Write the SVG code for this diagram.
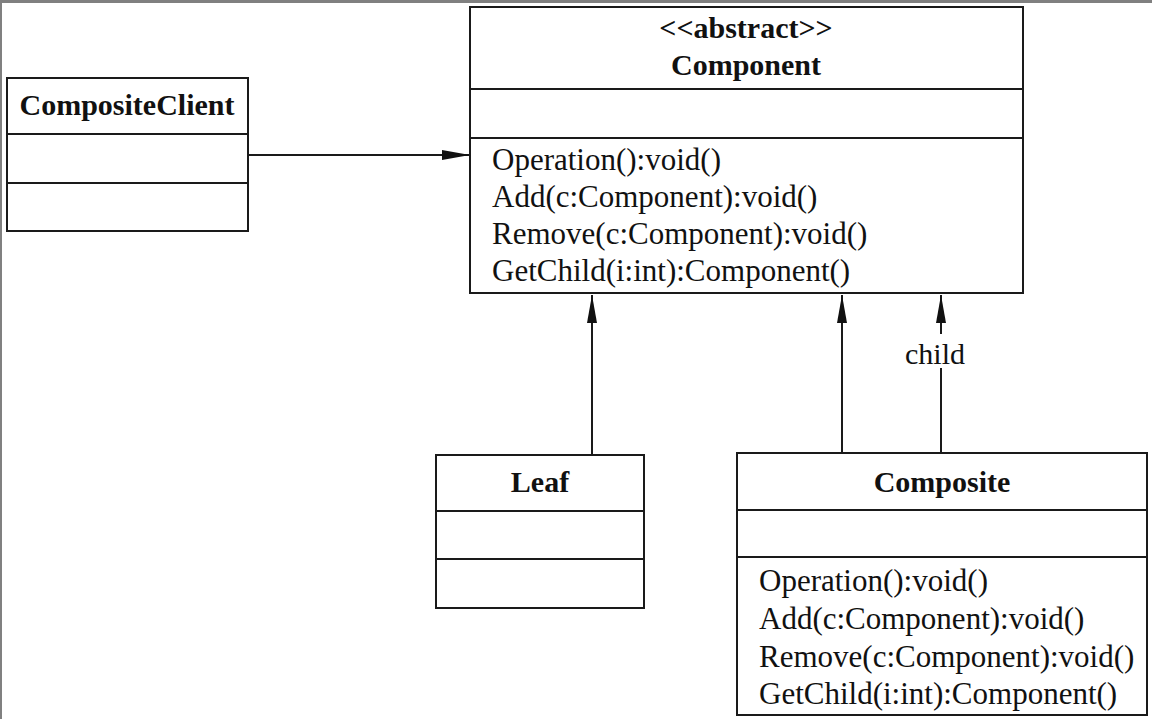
<svg xmlns="http://www.w3.org/2000/svg" width="1152" height="719" viewBox="0 0 1152 719">
<style>
.box{fill:#fff;stroke:#1a1a1a;stroke-width:2}
.div{stroke:#1a1a1a;stroke-width:2}
.title{font-family:"Liberation Serif",serif;font-weight:bold;font-size:30px;fill:#111;text-anchor:middle}
.op{font-family:"Liberation Serif",serif;font-size:31px;fill:#111}
.lbl{font-family:"Liberation Serif",serif;font-size:30px;fill:#111;text-anchor:middle}
.conn{stroke:#1a1a1a;stroke-width:2;fill:none}
</style>
<defs>
<marker id="arr" markerUnits="userSpaceOnUse" markerWidth="28" markerHeight="10" refX="28" refY="5" orient="auto">
<path d="M0,0 L28,5 L0,10 z" fill="#111"/>
</marker>
</defs>
<rect x="0" y="0" width="1152" height="719" fill="#fff"/>
<rect x="0" y="0" width="1152" height="3" fill="#808080"/>
<rect x="0" y="0" width="2" height="719" fill="#808080"/>

<g id="connectors">
<line class="conn" x1="248" y1="155" x2="470" y2="155" marker-end="url(#arr)"/>
<line class="conn" x1="592" y1="455" x2="592" y2="295" marker-end="url(#arr)"/>
<line class="conn" x1="842" y1="453" x2="842" y2="295" marker-end="url(#arr)"/>
<line class="conn" x1="941" y1="453" x2="941" y2="368"/>
<line class="conn" x1="941" y1="334" x2="941" y2="295" marker-end="url(#arr)"/>
<text class="lbl" x="935" y="364">child</text>
</g>

<g id="CompositeClient">
<rect class="box" x="7" y="78" width="241" height="153"/>
<line class="div" x1="7" y1="134" x2="248" y2="134"/>
<line class="div" x1="7" y1="183" x2="248" y2="183"/>
<text class="title" x="127" y="115">CompositeClient</text>
</g>

<g id="Component">
<rect class="box" x="470" y="7" width="553" height="286"/>
<line class="div" x1="470" y1="89" x2="1023" y2="89"/>
<line class="div" x1="470" y1="138" x2="1023" y2="138"/>
<text class="title" x="746" y="38">&lt;&lt;abstract&gt;&gt;</text>
<text class="title" x="746" y="75">Component</text>
<text class="op" x="492" y="170">Operation():void()</text>
<text class="op" x="492" y="207">Add(c:Component):void()</text>
<text class="op" x="492" y="244">Remove(c:Component):void()</text>
<text class="op" x="492" y="281">GetChild(i:int):Component()</text>
</g>

<g id="Leaf">
<rect class="box" x="436" y="455" width="208" height="153"/>
<line class="div" x1="436" y1="511" x2="644" y2="511"/>
<line class="div" x1="436" y1="559" x2="644" y2="559"/>
<text class="title" x="540" y="492">Leaf</text>
</g>

<g id="Composite">
<rect class="box" x="737" y="453" width="410" height="262"/>
<line class="div" x1="737" y1="510" x2="1147" y2="510"/>
<line class="div" x1="737" y1="557" x2="1147" y2="557"/>
<text class="title" x="942" y="492">Composite</text>
<text class="op" x="759" y="591">Operation():void()</text>
<text class="op" x="759" y="629">Add(c:Component):void()</text>
<text class="op" x="759" y="667">Remove(c:Component):void()</text>
<text class="op" x="759" y="704">GetChild(i:int):Component()</text>
</g>
</svg>
